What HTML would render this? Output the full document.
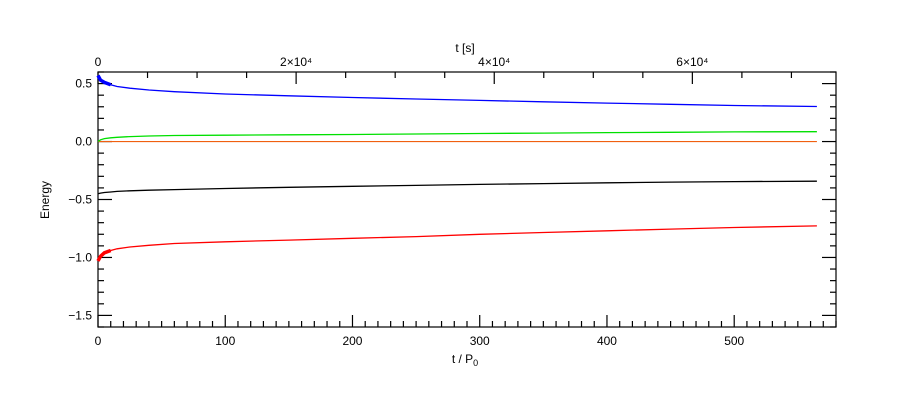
<!DOCTYPE html>
<html><head><meta charset="utf-8"><style>
body{margin:0;background:#fff}
svg{display:block;font-family:"Liberation Sans",sans-serif;font-size:12px}
</style></head><body>
<svg id="c" width="900" height="400"></svg>
<script>
const tVals=[0,2,5,10,15,25,40,60,100,150,200,250,300,350,400,450,500,565];
const blueVals=[0.57,0.53,0.51,0.49,0.475,0.46,0.445,0.43,0.41,0.395,0.38,0.367,0.355,0.343,0.332,0.321,0.311,0.302];
const greenVals=[0.0,0.015,0.025,0.032,0.037,0.043,0.048,0.052,0.055,0.058,0.061,0.065,0.069,0.073,0.077,0.080,0.083,0.085];
const blackVals=[-0.45,-0.445,-0.44,-0.435,-0.43,-0.425,-0.42,-0.415,-0.405,-0.395,-0.386,-0.378,-0.37,-0.363,-0.356,-0.35,-0.346,-0.342];
const redVals=[-1.03,-0.99,-0.96,-0.94,-0.925,-0.91,-0.895,-0.88,-0.865,-0.85,-0.835,-0.82,-0.80,-0.785,-0.77,-0.755,-0.742,-0.728];
const zeroVals=[0,0];
const bottomTicks=[0,100,200,300,400,500];
const topTickLabels=["0","2×10⁴","4×10⁴","6×10⁴"];
const topTicks=[0,20000,40000,60000];
const yTicks=[0.5,0.0,-0.5,-1.0,-1.5];
const yTickLabels=["0.5","0.0","−0.5","−1.0","−1.5"];
const L=98,R=836,T=72,B=327,xMax=580,yMin=-1.6,yMax=0.6,sMax=74500;
const X=v=>L+(v/xMax)*(R-L), Y=v=>T+(yMax-v)/(yMax-yMin)*(B-T), XS=s=>L+(s/sMax)*(R-L);
const svg=document.getElementById('c'),NS='http://www.w3.org/2000/svg';
function mk(tag,a,p){const e=document.createElementNS(NS,tag);for(const k in a)e.setAttribute(k,a[k]);(p||svg).appendChild(e);return e;}
const ax=mk('g',{stroke:'#000','stroke-width':1.2});


mk('rect',{x:L,y:T,width:R-L,height:B-T,fill:'none'},ax);
for(let v=0;v<=xMax;v+=10){const big=v%100===0;mk('line',{x1:X(v),x2:X(v),y1:B,y2:B-(big?12:6)},ax);}
for(let s=0;s<=sMax;s+=5000){const big=s%20000===0;mk('line',{x1:XS(s),x2:XS(s),y1:T,y2:T+(big?12:6)},ax);}
for(let i=-16;i<=6;i++){const v=i/10,big=i%5===0;mk('line',{x1:L,x2:L+(big?14:6),y1:Y(v),y2:Y(v)},ax);mk('line',{x1:R,x2:R-(big?14:6),y1:Y(v),y2:Y(v)},ax);}
bottomTicks.forEach(v=>{const t=mk('text',{x:X(v),y:B+18,'text-anchor':'middle'});t.textContent=v;

});
topTicks.forEach((s,i)=>{const t=mk('text',{x:XS(s),y:T-6,'text-anchor':'middle'});t.textContent=topTickLabels[i];

});
yTicks.forEach((v,i)=>{const t=mk('text',{x:L-6,y:Y(v)+4,'text-anchor':'end'});t.textContent=yTickLabels[i];

});
function line(vals,color,name,thick){const d=vals.map((v,i)=>(i?'L':'M')+X(tVals[i]).toFixed(1)+','+Y(v).toFixed(1)).join('');
const p=mk('path',{d,fill:'none',stroke:color,'stroke-width':1.3});


if(thick){const early=vals.slice(0,4).map((v,i)=>(i?'L':'M')+X(tVals[i]).toFixed(1)+','+Y(v).toFixed(1)).join('');
mk('path',{d:early,fill:'none',stroke:color,'stroke-width':3.5});}}
const z=mk('line',{x1:X(0),x2:X(565),y1:Y(zeroVals[0]),y2:Y(zeroVals[1]),stroke:'#f06010','stroke-width':1.2});


line(blueVals,'#0000ff','blue-series',true);
line(greenVals,'#00e000','green-series',false);
line(blackVals,'#000','black-series',false);
line(redVals,'#ff0000','red-series',true);
</script>
<svg style="position:absolute;left:0;top:0" width="900" height="400" font-family="Liberation Sans, sans-serif" font-size="13">
<text x="465" y="52" text-anchor="middle">t [s]</text>
<text x="465" y="363" text-anchor="middle">t / P<tspan font-size="9" dy="3">0</tspan></text>
<text x="49" y="200" text-anchor="middle" transform="rotate(-90 49 200)">Energy</text>
</svg>
</body></html>
